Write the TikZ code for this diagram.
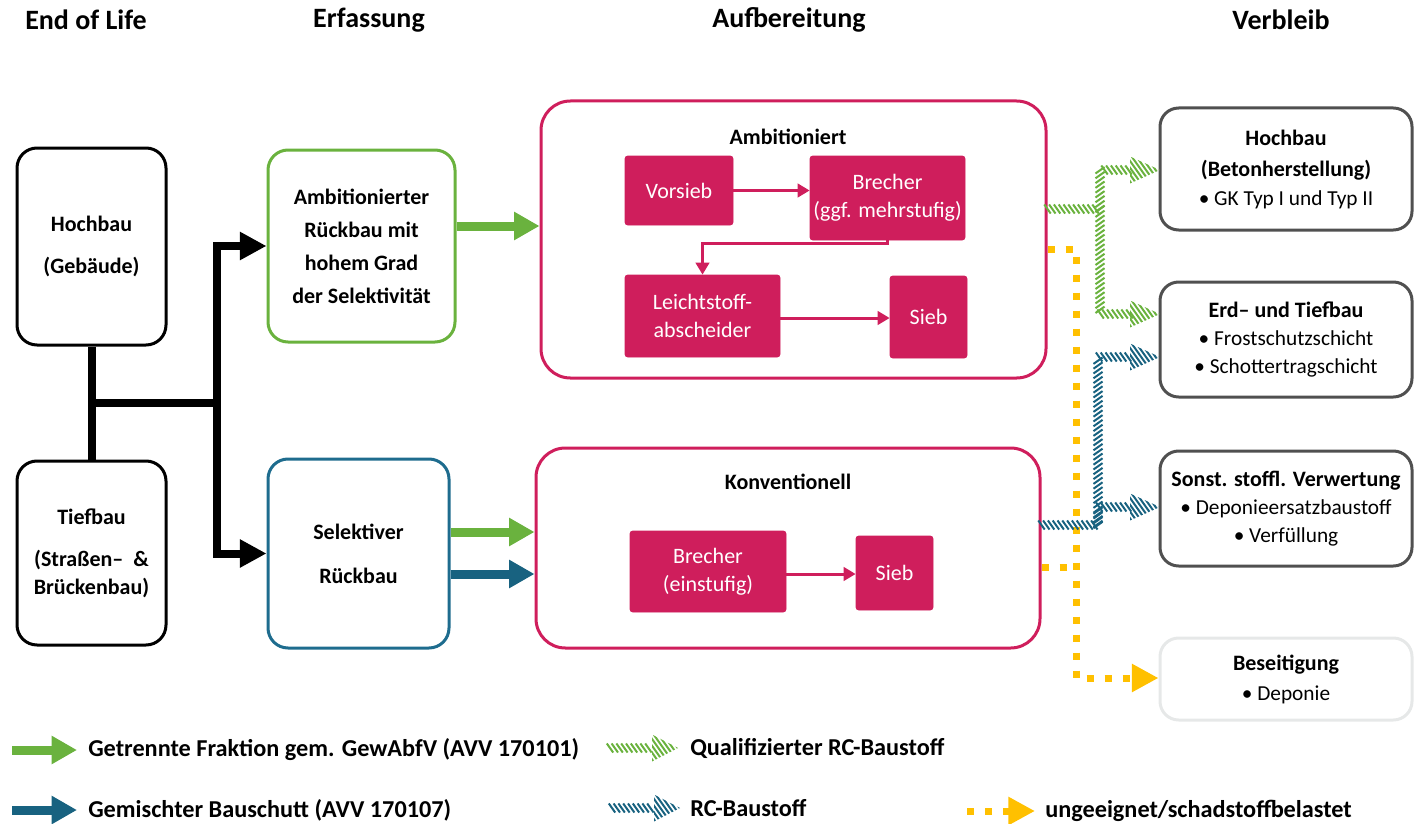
\documentclass[tikz,border=0pt]{standalone}
\usepackage{fontspec}
\setmainfont{Carlito}
\usetikzlibrary{arrows.meta,decorations.markings}
\definecolor{mag}{RGB}{207,30,92}
\definecolor{grn}{RGB}{106,178,62}
\definecolor{blu}{RGB}{24,98,128}
\definecolor{bluebox}{RGB}{30,108,142}
\definecolor{ylw}{RGB}{255,192,0}
\definecolor{dgr}{RGB}{80,80,80}
\definecolor{lgr}{RGB}{230,232,232}
\newcommand{\htipdraw}[4]{%
  \begin{scope}
    \clip (#2,#3-13.5) -- (#4,#3) -- (#2,#3+13.5) -- cycle;
    \path[decoration={markings,mark=between positions 0 and 1 step 3.6pt with {\draw[#1,line width=1.5pt] (-7pt,9.9pt)--(7pt,-9.9pt);}},decorate] (#2-8,#3) -- (#4+8,#3);
  \end{scope}}
\newcommand{\bulfont}{\mdseries\fontsize{16}{21.5}\selectfont}
\begin{document}
\begin{tikzpicture}[x=0.75pt,y=-0.75pt,
  hdr/.style={font=\bfseries\fontsize{21}{25}\selectfont},
  lbox/.style={draw,line width=2.25pt,rounded corners=15pt,align=center,inner sep=0pt,font=\bfseries\fontsize{16.5}{24.75}\selectfont},
  ibox/.style={fill=mag,draw=mag,line width=0.5pt,rounded corners=2pt,align=center,inner sep=0pt,text=white,font=\fontsize{16.5}{21}\selectfont},
  obox/.style={draw=mag,line width=2.25pt,rounded corners=22pt,inner sep=0pt},
  vbox/.style={draw=dgr,line width=2.25pt,rounded corners=14pt,align=center,inner sep=0pt,minimum width=189pt,font=\bfseries\fontsize{16.5}{21}\selectfont},
  btxt/.style={font=\bfseries\fontsize{16.5}{20}\selectfont},
  legt/.style={font=\bfseries\fontsize{18.2}{22}\selectfont,anchor=west,inner sep=0pt},
  blk/.style={line width=6pt,black},
  blkarr/.style={blk,-{Triangle[length=20pt,width=20pt]}},
  garr/.style={line width=6.75pt,grn,-{Triangle[length=19pt,width=20pt]}},
  barr/.style={line width=6.75pt,blu,-{Triangle[length=19pt,width=20pt]}},
  marr/.style={line width=2.25pt,mag,-{Triangle[length=9pt,width=10pt]}},
  yarr/.style={line width=5.25pt,ylw,dash pattern=on 5.25pt off 8.25pt,-{Triangle[length=20pt,width=20pt]}},
  hatch/.style={decoration={markings,mark=between positions 0 and 1 step 3.6pt with {\draw[#1,line width=1.5pt] (-2.4pt,3.4pt)--(2.4pt,-3.4pt);}},decorate}
]
\useasboundingbox (0,0) rectangle (1414,824);

% headers
\node[hdr] (h1) at (86,20) {End of Life};
\node[hdr] (h2) at (369,20) {Erfassung};
\node[hdr] (h3) at (789,20) {Aufbereitung};
\node[hdr] (h4) at (1281,20) {Verbleib};

% left boxes
\node[lbox,minimum width=111.75pt,minimum height=147.75pt,font=\bfseries\fontsize{16.5}{31.5}\selectfont] (hochL) at (91.5,246.5) {Hochbau\\(Gebäude)};
\node[lbox,minimum width=111.75pt,minimum height=138pt,font=\bfseries\fontsize{16.5}{21}\selectfont] (tiefL) at (91.5,553) {Tiefbau\\[10.5pt](Straßen–\ \ \&\\Brückenbau)};

% Erfassung
\node[lbox,draw=grn,minimum width=140.25pt,minimum height=144pt] (erfA) at (361.5,246) {Ambitionierter\\Rückbau mit\\hohem Grad\\der Selektivität};
\node[lbox,draw=bluebox,minimum width=135.75pt,minimum height=141.75pt,font=\bfseries\fontsize{16.5}{33}\selectfont] (erfS) at (358.5,553.5) {Selektiver\\Rückbau};

% Aufbereitung
\node[obox,minimum width=378.75pt,minimum height=207.75pt] (amb) at (793.5,239.5) {};
\node[btxt] (ambT) at (788,137) {Ambitioniert};
\node[ibox,minimum width=81pt,minimum height=51.75pt] (vorsieb) at (679,190.5) {Vorsieb};
\node[ibox,minimum width=116.25pt,minimum height=63pt] (brecherA) at (887.5,198) {Brecher\\(ggf. mehrstufig)};
\node[ibox,minimum width=116.25pt,minimum height=61.5pt] (leicht) at (702.5,316) {Leichtstoff-\\abscheider};
\node[ibox,minimum width=57.75pt,minimum height=61.5pt] (siebA) at (928.5,317) {Sieb};

\node[obox,minimum width=378pt,minimum height=150pt] (kon) at (788,548) {};
\node[btxt] (konT) at (788,482) {Konventionell};
\node[ibox,minimum width=117pt,minimum height=60.75pt] (brecherB) at (708,571.5) {Brecher\\(einstufig)};
\node[ibox,minimum width=57.75pt,minimum height=55.5pt] (siebB) at (894.5,573) {Sieb};

% Verbleib
\node[vbox,minimum height=91.5pt] (vHoch) at (1286,169) {Hochbau\\[3pt](Betonherstellung)\\\bulfont\textbullet\ GK Typ I und Typ II};
\node[vbox,minimum height=86.25pt] (vErd) at (1286,339.5) {Erd– und Tiefbau\\\bulfont\textbullet\ Frostschutzschicht\\\bulfont\textbullet\ Schottertragschicht};
\node[vbox,minimum height=86.25pt] (vSonst) at (1286,508.5) {Sonst. stoffl. Verwertung\\\bulfont\textbullet\ Deponieersatzbaustoff\\\bulfont\textbullet\ Verfüllung};
\node[vbox,draw=lgr,minimum height=61.5pt,font=\bfseries\fontsize{16.5}{22.5}\selectfont] (vBes) at (1286,679) {Beseitigung\\\bulfont\textbullet\ Deponie};

% black tree
\coordinate (j0) at (92,403);
\coordinate (j1) at (217,403);
\draw[blk] (hochL.south) -- (tiefL.north);
\draw[blk] (j0) -- (j1);
\draw[blkarr] (j1) |- (erfA.west);
\draw[blkarr] (j1) |- (erfS.west);

% Erfassung -> Aufbereitung
\draw[garr] (erfA.east |- 0,226) -- (amb.west |- 0,226);
\draw[garr] (erfS.east |- 0,532) -- (kon.west |- 0,532);
\draw[barr] (erfS.east |- 0,574) -- (kon.west |- 0,574);

% inner arrows
\draw[marr] (vorsieb.east) -- (brecherA.west |- vorsieb.east);
\draw[marr] (brecherA.south) -- ++(0,3) -| (leicht.north);
\draw[marr] (leicht.east |- 0,318) -- (siebA.west |- 0,318);
\draw[marr] (brecherB.east |- 0,574) -- (siebB.west |- 0,574);

% yellow dotted
\coordinate (y0) at (1076,249);
\coordinate (y1) at (1076,678);
\coordinate (y2) at (1076,567);
\draw[yarr] (amb.east |- y0) -- (y0) -- (y1) -- (vBes.west |- y1);
\draw[line width=5.25pt,ylw,dash pattern=on 5.25pt off 8.25pt] (kon.east |- y2) -- (y2);

% green hatched
\coordinate (gj) at (1100,209);
\coordinate (g1) at (1130,170);
\coordinate (g2) at (1130,314);
\path[hatch=grn] (amb.east |- gj) -- (gj) -- (gj |- g1) -- (g1);
\path[hatch=grn] (gj) -- (gj |- g2) -- (g2);
\htipdraw{grn}{1130}{170}{1160}
\htipdraw{grn}{1130}{314}{1160}

% blue hatched
\coordinate (bj) at (1098,525);
\coordinate (b1) at (1130,357);
\coordinate (b2) at (1130,507);
\path[hatch=blu] (kon.east |- bj) -- (bj) -- (bj |- b1) -- (b1);
\path[hatch=blu] (bj) -- (bj |- b2) -- (b2);
\htipdraw{blu}{1130}{357}{1160}
\htipdraw{blu}{1130}{507}{1160}

% legend
\coordinate (lg0) at (12,750); \coordinate (lg1) at (77,750);
\coordinate (lb0) at (12,810); \coordinate (lb1) at (77,810);
\draw[garr] (lg0) -- (lg1);
\draw[barr] (lb0) -- (lb1);
\node[legt] (lgt) at (88,750) {Getrennte Fraktion gem. GewAbfV (AVV 170101)};
\node[legt] (lbt) at (88,810) {Gemischter Bauschutt (AVV 170107)};

\coordinate (lhg0) at (610,748); \coordinate (lhg1) at (652,748);
\path[hatch=grn] (lhg0) -- (lhg1);
\htipdraw{grn}{652}{748}{678}
\node[legt] (lhgt) at (690,748) {Qualifizierter RC-Baustoff};

\coordinate (lhb0) at (612,808); \coordinate (lhb1) at (654,808);
\path[hatch=blu] (lhb0) -- (lhb1);
\htipdraw{blu}{654}{808}{680}
\node[legt] (lhbt) at (690,808) {RC-Baustoff};

\coordinate (ly0) at (967,811); \coordinate (ly1) at (1035,811);
\draw[yarr] (ly0) -- (ly1);
\node[legt] (lyt) at (1045,811) {ungeeignet/schadstoffbelastet};
\end{tikzpicture}
\end{document}
